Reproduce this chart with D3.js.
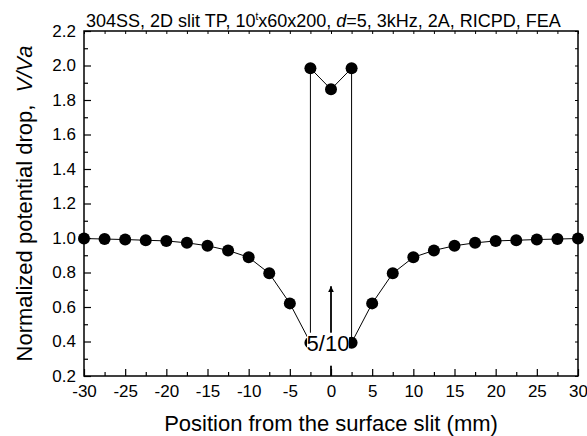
<!DOCTYPE html>
<html>
<head>
<meta charset="utf-8">
<script src="https://cdn.jsdelivr.net/npm/d3@7"></script>
<style>
  body { margin: 0; background: #fff; }
  svg { display: block; }
  text { font-family: "Liberation Sans", Arial, Helvetica, sans-serif; fill: #000; }
</style>
</head>
<body>
<svg id="chart" width="587" height="436"></svg>
<script>
// Position along the surface (mm); the slit faces at ±2.5 appear twice (below and above the slit)
const positions = [-30, -27.5, -25, -22.5, -20, -17.5, -15, -12.5, -10, -7.5, -5, -2.5,
                   -2.5, 0, 2.5,
                   2.5, 5, 7.5, 10, 12.5, 15, 17.5, 20, 22.5, 25, 27.5, 30];
// Normalized potential drop V/Va
const potential = [0.997, 0.994, 0.991, 0.987, 0.983, 0.972, 0.955, 0.928, 0.888, 0.795, 0.621, 0.393,
                   1.984, 1.862, 1.984,
                   0.393, 0.621, 0.795, 0.888, 0.928, 0.955, 0.972, 0.983, 0.987, 0.991, 0.994, 0.997];

const xTicks = [-30, -25, -20, -15, -10, -5, 0, 5, 10, 15, 20, 25, 30];
const yTicks = [0.2, 0.4, 0.6, 0.8, 1.0, 1.2, 1.4, 1.6, 1.8, 2.0, 2.2];

// Slit depth annotation: arrow at the slit centre, label "5/10"
const arrowX = 0;
const arrowFrom = 0.2;
const arrowTo = 0.72;
const slitLabel = "5/10";

const margin = { left: 84, right: 9, top: 31, bottom: 60 };
const W = 587, H = 436;
const svg = d3.select("#chart");

const x = d3.scaleLinear().domain([-30, 30]).range([margin.left, W - margin.right]);
const y = d3.scaleLinear().domain([0.2, 2.2]).range([H - margin.bottom, margin.top]);

const x0 = x.range()[0], x1 = x.range()[1];
const yB = y.range()[0], yT = y.range()[1];

// Minor ticks
const xMinor = d3.range(-30, 30.01, 2.5).filter(v => Math.abs(v % 5) > 1e-6);
const yMinor = d3.range(0.3, 2.2, 0.2);

// Bottom axis (ticks point inward), plain hyphen for negatives
const bottom = svg.append("g").attr("transform", `translate(0,${yB})`)
  .call(d3.axisBottom(x).tickValues(xTicks).tickSize(-7).tickFormat(d => String(d)));
bottom.select(".domain").remove();
bottom.selectAll(".tick line").attr("stroke", "#000").attr("stroke-width", 1.2);
bottom.selectAll(".tick text").attr("font-size", 17).attr("dy", "0.71em").attr("y", 9);
svg.append("g").attr("transform", `translate(0,${yB})`)
  .call(d3.axisBottom(x).tickValues(xMinor).tickSize(-4).tickFormat(""))
  .call(g => g.select(".domain").remove())
  .selectAll(".tick line").attr("stroke", "#000").attr("stroke-width", 1.2);

// Top axis ticks (short, inward)
svg.append("g").attr("transform", `translate(0,${yT})`)
  .call(d3.axisTop(x).tickValues(d3.range(-30, 30.01, 2.5)).tickSize(-3).tickFormat(""))
  .call(g => g.select(".domain").remove())
  .selectAll(".tick line").attr("stroke", "#000").attr("stroke-width", 1);

// Left axis
const left = svg.append("g").attr("transform", `translate(${x0},0)`)
  .call(d3.axisLeft(y).tickValues(yTicks).tickSize(-7).tickFormat(d3.format(".1f")));
left.select(".domain").remove();
left.selectAll(".tick line").attr("stroke", "#000").attr("stroke-width", 1.2);
left.selectAll(".tick text").attr("font-size", 17).attr("x", -8);
svg.append("g").attr("transform", `translate(${x0},0)`)
  .call(d3.axisLeft(y).tickValues(yMinor).tickSize(-4).tickFormat(""))
  .call(g => g.select(".domain").remove())
  .selectAll(".tick line").attr("stroke", "#000").attr("stroke-width", 1.2);

// Right axis ticks (short, inward)
svg.append("g").attr("transform", `translate(${x1},0)`)
  .call(d3.axisRight(y).tickValues(d3.range(0.2, 2.21, 0.1)).tickSize(-3).tickFormat(""))
  .call(g => g.select(".domain").remove())
  .selectAll(".tick line").attr("stroke", "#000").attr("stroke-width", 1);

// Frame
svg.append("rect")
  .attr("x", x0).attr("y", yT).attr("width", x1 - x0).attr("height", yB - yT)
  .attr("fill", "none").attr("stroke", "#000").attr("stroke-width", 1.5);

// Data line and markers
const pts = positions.map((p, i) => [p, potential[i]]);
svg.append("path")
  .attr("d", d3.line().x(d => x(d[0])).y(d => y(d[1]))(pts))
  .attr("fill", "none").attr("stroke", "#000").attr("stroke-width", 1);

svg.append("g").selectAll("circle").data(pts).join("circle")
  .attr("cx", d => x(d[0])).attr("cy", d => y(d[1])).attr("r", 6).attr("fill", "#000");

// Arrow
const defs = svg.append("defs");
defs.append("marker").attr("id", "head").attr("viewBox", "0 0 10 10")
  .attr("refX", 10).attr("refY", 5).attr("markerWidth", 6).attr("markerHeight", 8)
  .attr("markerUnits", "userSpaceOnUse").attr("orient", "auto")
  .append("path").attr("d", "M0,0 L10,5 L0,10 Z").attr("fill", "#000");
svg.append("line")
  .attr("x1", x(arrowX)).attr("x2", x(arrowX))
  .attr("y1", y(arrowFrom)).attr("y2", y(arrowTo))
  .attr("stroke", "#000").attr("stroke-width", 1.8).attr("marker-end", "url(#head)");

// Label with white box
const lowY = y(potential[11]);
svg.append("rect")
  .attr("x", x(arrowX) - 24).attr("y", lowY - 10).attr("width", 42).attr("height", 33)
  .attr("fill", "#fff");
svg.append("text")
  .attr("x", x(arrowX) - 3).attr("y", lowY).attr("dy", "0.36em")
  .attr("text-anchor", "middle").attr("font-size", 22)
  .text(slitLabel);

// Title
const title = svg.append("text").attr("x", 86).attr("y", 26.5).attr("font-size", 18);
title.append("tspan").text("304SS, 2D slit TP, 10");
title.append("tspan").attr("font-size", 10).attr("dy", -7).text("t");
title.append("tspan").attr("dy", 7).text("x60x200, ");
title.append("tspan").attr("font-style", "italic").text("d");
title.append("tspan").text("=5, 3kHz, 2A, RICPD, FEA");

// Axis titles
svg.append("text")
  .attr("x", (x0 + x1) / 2).attr("y", 431)
  .attr("text-anchor", "middle").attr("font-size", 22)
  .text("Position from the surface slit (mm)");

const yl = svg.append("text")
  .attr("transform", `translate(32,${(yT + yB) / 2}) rotate(-90)`)
  .attr("text-anchor", "middle").attr("font-size", 22);
yl.append("tspan").text("Normalized potential drop,\u00a0\u00a0");
yl.append("tspan").attr("font-style", "italic").text("V/Va");
</script>
</body>
</html>
